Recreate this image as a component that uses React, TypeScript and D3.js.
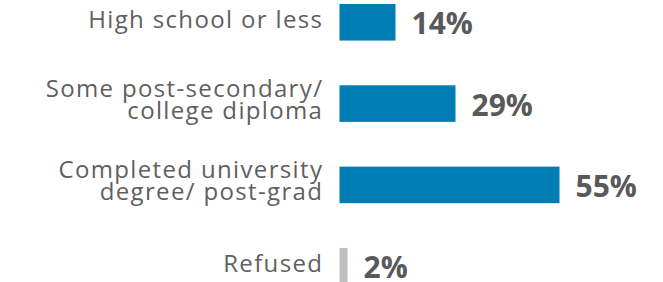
import React, { useEffect, useRef } from 'react';
import * as d3 from 'd3';

const categories = ['hs', 'college', 'university', 'refused'];
const categoryLines = [
  ['High school or less'],
  ['Some post-secondary/', 'college diploma'],
  ['Completed university', 'degree/ post-grad'],
  ['Refused'],
];
const values = [14, 29, 55, 2];
const valueLabels = ['14%', '29%', '55%', '2%'];
const barColors = ['#007db3', '#007db3', '#007db3', '#bfbfbf'];

const width = 663;
const height = 282;

function App() {
  const svgRef = useRef<SVGSVGElement | null>(null);

  useEffect(() => {
    const svg = d3.select(svgRef.current);
    svg.selectAll('*').remove();

    const yScale = d3.scaleBand()
      .domain(categories)
      .range([4, 284.5])
      .paddingInner(0.55)
      .paddingOuter(0);

    const xScale = d3.scaleLinear()
      .domain([0, 100])
      .range([339.5, 739.5]);

    const rows = categories.map((c, i) => ({
      key: c,
      lines: categoryLines[i],
      value: values[i],
      label: valueLabels[i],
      color: barColors[i],
    }));

    const bw = yScale.bandwidth();

    svg.append('g')
      .selectAll('rect')
      .data(rows)
      .enter()
      .append('rect')
      .attr('x', xScale(0))
      .attr('y', d => yScale(d.key)!)
      .attr('width', d => xScale(d.value) - xScale(0))
      .attr('height', bw)
      .attr('fill', d => d.color);

    // value labels
    svg.append('g')
      .selectAll('text')
      .data(rows)
      .enter()
      .append('text')
      .attr('x', d => xScale(d.value) + 16)
      .attr('y', d => yScale(d.key)! + bw / 2 + 12)
      .attr('font-family', '"Open Sans", sans-serif')
      .attr('font-weight', 700)
      .attr('font-size', '30px')
      .attr('fill', '#595959')
      .text(d => d.label);

    // category labels
    const cat = svg.append('g')
      .selectAll('text')
      .data(rows)
      .enter()
      .append('text')
      .attr('text-anchor', 'end')
      .attr('font-family', '"Open Sans", sans-serif')
      .attr('font-size', '24px')
      .attr('letter-spacing', '1.35px')
      .attr('fill', '#5f5f5f');

    cat.each(function (d) {
      const mid = yScale(d.key)! + bw / 2;
      const t = d3.select(this);
      const x = 323.3;
      if (d.lines.length === 1) {
        t.append('tspan').attr('x', x).attr('y', mid + 5.5).text(d.lines[0]);
      } else {
        t.append('tspan').attr('x', x).attr('y', mid - 6.5).text(d.lines[0]);
        t.append('tspan').attr('x', x).attr('y', mid + 15).text(d.lines[1]);
      }
    });
  }, []);

  return (
    <svg
      ref={svgRef}
      width={width}
      height={height}
      style={{ position: 'absolute', left: 0, top: 0, background: '#fff' }}
    />
  );
}

export default App;
